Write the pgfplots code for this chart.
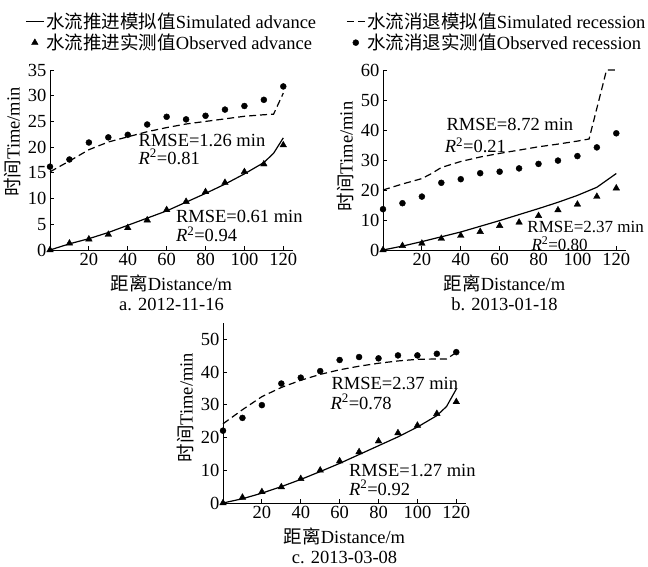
\documentclass[border=0pt]{standalone}
\usepackage{fontspec}
\setmainfont{Liberation Serif}
\newfontfamily\cjk{Noto Sans CJK SC}
\usepackage{pgfplots}
\pgfplotsset{compat=1.18}

\pgfplotsset{
  irr/.style={
    scale only axis, width=243pt, height=180pt,
    xmin=0, xmax=125, ymin=0,
    axis lines=left, axis line style={-, line width=0.9pt},
    xtick={20,40,...,120},
    tick align=inside, major tick length=4pt,
    tick style={black, line width=0.8pt},
    font=\fontsize{18.5}{20}\selectfont,
    /pgf/number format/assume math mode=true,
    xlabel={{\cjk 距离}Distance/m},
    ylabel={{\cjk 时间}Time/min},
    xlabel style={yshift=-2pt},
    clip=false,
    every node/.append style={inner sep=0pt},
  },
  sim/.style={black, line width=1.2pt, no marks},
  simr/.style={black, line width=1.2pt, no marks, dash pattern=on 7pt off 4pt},
  obsa/.style={black, only marks, mark=triangle*, mark size=3.8pt},
  obsr/.style={black, only marks, mark=*, mark size=3pt},
}

\begin{document}
\begin{tikzpicture}
\useasboundingbox (0,0) rectangle (648pt,567pt);

% ---- a. 2012-11-16
\begin{axis}[irr, at={(50pt,317pt)}, anchor=origin, ymax=35,
  ytick={0,5,...,35},
  ylabel style={at={(ticklabel cs:0.6)}},
  legend columns=2,
  legend cell align=left,
  legend style={at={(axis description cs:-0.115,1.34)}, anchor=north west,
    draw=none, fill=none, font=\fontsize{18.5}{20}\selectfont,
    /tikz/every even column/.append style={column sep=28pt}},
  legend image code/.code={\draw[mark repeat=2,mark phase=2,#1] plot coordinates {(0pt,0pt) (9pt,0pt) (18pt,0pt)};},
]
\addlegendimage{sim}
\addlegendentry{{\cjk 水流推进模拟值}Simulated advance}
\addlegendimage{simr}
\addlegendentry{{\cjk 水流消退模拟值}Simulated recession}
\addlegendimage{obsa}
\addlegendentry{{\cjk 水流推进实测值}Observed advance}
\addlegendimage{obsr}
\addlegendentry{{\cjk 水流消退实测值}Observed recession}

\addplot[simr, forget plot] coordinates {
 (0,15.2) (10,17.3) (20,19.5) (30,21) (40,22) (50,23) (60,23.8) (70,24.5)
 (80,25) (90,25.5) (100,26) (110,26.3) (115,26.4) (120,30.5)};
\addplot[obsr, forget plot] coordinates {
 (0,16.2) (10,17.6) (20,20.9) (30,21.9) (40,22.4) (50,24.4) (60,25.9) (70,25.4)
 (80,26.1) (90,27.3) (100,28.0) (110,29.2) (120,31.8)};
\addplot[sim, forget plot] coordinates {
 (0,0) (10,1.2) (20,2.2) (30,3.4) (40,4.8) (50,6.2) (60,7.6) (70,9.3)
 (80,11) (90,12.8) (100,14.8) (110,17) (115,18.8) (120,21.8)};
\addplot[obsa, forget plot] coordinates {
 (0,0) (10,1.3) (20,2.1) (30,3.0) (40,4.3) (50,5.8) (60,7.8) (70,9.4)
 (80,11.3) (90,13.1) (100,15.2) (110,16.7) (120,20.4)};
\node[anchor=west] at (axis cs:43.8,21.3) {RMSE=1.26 min};
\node[anchor=west] at (axis cs:43.8,18.1) {\textit{R}\textsuperscript{2}=0.81};
\node[anchor=west] at (axis cs:63,6.5) {RMSE=0.61 min};
\node[anchor=west] at (axis cs:63,3.1) {\textit{R}\textsuperscript{2}=0.94};
\node at (rel axis cs:0.5,0) [yshift=-54pt] {a. 2012-11-16};
\end{axis}

% ---- b. 2013-01-18
\begin{axis}[irr, at={(383pt,317pt)}, anchor=origin, ymax=60,
  ytick={0,10,...,60},
  ylabel style={at={(ticklabel cs:0.52)}},
]
\addplot[simr] coordinates {
 (0,20) (10,22) (20,23.8) (25,25.5) (30,27.5) (40,29.5) (50,31) (60,32.2)
 (70,33.3) (80,34.4) (90,35.3) (100,36.3) (106,37) (115,60) (120,60)};
\addplot[obsr] coordinates {
 (0,13.6) (10,15.6) (20,17.8) (30,22.4) (40,23.6) (50,25.6) (60,26.1) (70,27.2)
 (80,28.7) (90,29.8) (100,31.3) (110,34.2) (120,38.9)};
\addplot[sim] coordinates {
 (0,0) (10,1.3) (20,2.8) (30,4.4) (40,6) (50,7.9) (60,9.8) (70,11.8)
 (80,13.8) (90,15.9) (100,18.2) (110,20.9) (120,25.5)};
\addplot[obsa] coordinates {
 (0,0) (10,1.4) (20,2.2) (30,3.8) (40,4.8) (50,6.1) (60,8.1) (70,9.2)
 (80,11.4) (90,13.3) (100,15.2) (110,17.8) (120,20.6)};
\node[anchor=west] at (axis cs:30.9,41.7) {RMSE=8.72 min};
\node[anchor=west] at (axis cs:30,35) {\textit{R}\textsuperscript{2}=0.21};
\node[anchor=west, font=\fontsize{17}{18}\selectfont] at (axis cs:72.5,7.8) {RMSE=2.37 min};
\node[anchor=west, font=\fontsize{17}{18}\selectfont] at (axis cs:74.6,2.2) {\textit{R}\textsuperscript{2}=0.80};
\node at (rel axis cs:0.5,0) [yshift=-54pt] {b. 2013-01-18};
\end{axis}

% ---- c. 2013-03-08
\begin{axis}[irr, at={(223pt,64pt)}, anchor=origin, ymax=55,
  ytick={0,10,...,50},
  ylabel style={at={(ticklabel cs:0.53)}},
]
\addplot[simr] coordinates {
 (0,24.2) (10,28.5) (20,32.5) (30,35.3) (40,37.5) (50,39.3) (60,40.7) (70,41.8)
 (80,42.7) (90,43.4) (100,43.9) (110,44) (115,44) (120,46)};
\addplot[obsr] coordinates {
 (0,22.1) (10,26.0) (20,29.9) (30,36.5) (40,38.3) (50,40.3) (60,43.7) (70,44.6)
 (80,44.2) (90,45.1) (100,45.1) (110,45.6) (120,46.1)};
\addplot[sim] coordinates {
 (0,0) (10,1.3) (20,3) (30,5) (40,7.2) (50,9.6) (60,12.1) (70,14.8)
 (80,17.5) (90,20.2) (100,23.2) (110,26.7) (115,29.5) (120,34.8)};
\addplot[obsa] coordinates {
 (0,0) (10,1.7) (20,3.4) (30,4.9) (40,7.4) (50,10) (60,12.8) (70,15.6)
 (80,18.9) (90,21.4) (100,23.7) (110,27.3) (120,30.9)};
\node[anchor=west] at (axis cs:54,36.4) {RMSE=2.37 min};
\node[anchor=west] at (axis cs:53.5,30.9) {\textit{R}\textsuperscript{2}=0.78};
\node[anchor=west] at (axis cs:63,9.9) {RMSE=1.27 min};
\node[anchor=west] at (axis cs:63,4.6) {\textit{R}\textsuperscript{2}=0.92};
\node at (rel axis cs:0.5,0) [yshift=-54pt] {c. 2013-03-08};
\end{axis}
\end{tikzpicture}
\end{document}
